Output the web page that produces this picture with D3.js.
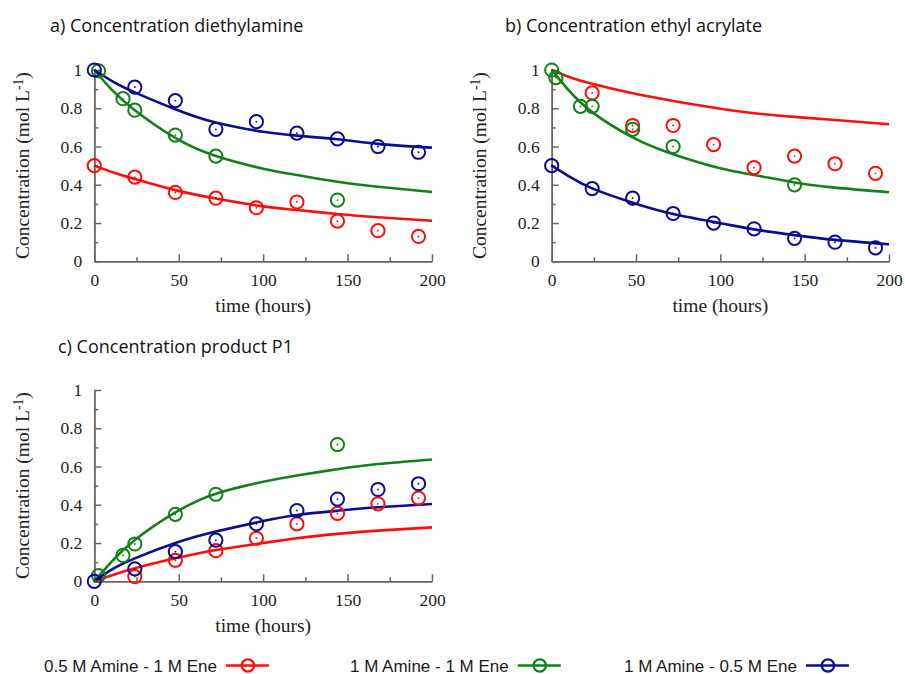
<!DOCTYPE html>
<html>
<head>
<meta charset="utf-8">
<script src="https://cdn.jsdelivr.net/npm/d3@7"></script>
<style>
  body { margin: 0; background: #fff; }
  .tick text { font-family: "Liberation Serif", serif; font-size: 17.5px; fill: #222; }
  .axis path, .axis line { stroke: #666; stroke-width: 1.5; }
  .title { font-family: "Open Sans", sans-serif; font-size: 18px; fill: #111; }
  .atitle { font-family: "Liberation Serif", serif; font-size: 19.5px; fill: #222; }
  .legend text { font-family: "Liberation Sans", Arial, sans-serif; font-size: 17px; fill: #1a1a1a; }
</style>
</head>
<body>
<svg id="chart" width="905" height="674"></svg>
<script>
// sampling times (hours)
const hours = [0, 24, 48, 72, 96, 120, 144, 168, 192];
const greenHours = [0, 2.5, 17, 24, 48, 72, 144];
const fitHours = [0, 10, 24, 48, 72, 100, 120, 144, 168, 200];

const seriesNames = ['0.5 M Amine - 1 M Ene', '1 M Amine - 1 M Ene', '1 M Amine - 0.5 M Ene'];
const seriesColors = ['#ff0d0d', '#13801a', '#0c0c8e'];

// a) diethylamine
const amineRed = [0.50, 0.44, 0.36, 0.33, 0.28, 0.31, 0.21, 0.16, 0.13];
const amineGreen = [null, 0.996, 0.85, 0.79, 0.66, 0.55, 0.32];
const amineBlue = [1.0, 0.91, 0.84, 0.69, 0.73, 0.67, 0.64, 0.60, 0.57];
const amineRedFit = [0.50, 0.468, 0.43, 0.372, 0.328, 0.287, 0.268, 0.247, 0.23, 0.212];
const amineGreenFit = [1.0, 0.90, 0.79, 0.645, 0.55, 0.484, 0.451, 0.416, 0.39, 0.362];
const amineBlueFit = [1.0, 0.945, 0.883, 0.795, 0.725, 0.677, 0.657, 0.638, 0.614, 0.594];

// b) ethyl acrylate
const acrylRed = [null, 0.88, 0.71, 0.71, 0.61, 0.49, 0.55, 0.51, 0.46];
const acrylGreen = [1.0, 0.96, 0.81, 0.81, 0.69, 0.60, 0.40];
const acrylBlue = [0.50, 0.38, 0.33, 0.25, 0.20, 0.17, 0.12, 0.10, 0.07];
const acrylRedFit = [1.0, 0.965, 0.928, 0.878, 0.838, 0.797, 0.774, 0.755, 0.739, 0.716];
const acrylGreenFit = [1.0, 0.895, 0.78, 0.648, 0.56, 0.486, 0.451, 0.412, 0.385, 0.361];
const acrylBlueFit = [0.50, 0.445, 0.381, 0.306, 0.247, 0.199, 0.167, 0.137, 0.112, 0.089];

// c) product P1
const prodRed = [null, 0.025, 0.11, 0.16, 0.225, 0.30, 0.355, 0.405, 0.435];
const prodGreen = [null, 0.03, 0.135, 0.195, 0.35, 0.455, 0.715];
const prodBlue = [0.0, 0.065, 0.155, 0.215, 0.30, 0.37, 0.43, 0.48, 0.51];
const prodRedFit = [0, 0.03, 0.068, 0.12, 0.164, 0.20, 0.225, 0.248, 0.265, 0.282];
const prodGreenFit = [0, 0.10, 0.216, 0.36, 0.458, 0.52, 0.553, 0.586, 0.613, 0.637];
const prodBlueFit = [0, 0.06, 0.12, 0.20, 0.26, 0.315, 0.347, 0.369, 0.387, 0.404];

const yTicks = [0, 0.2, 0.4, 0.6, 0.8, 1];
const yMinor = [0.1, 0.3, 0.5, 0.7, 0.9];
const xTicks = [0, 50, 100, 150, 200];
const xMinor = [25, 75, 125, 175];

const svg = d3.select('#chart');
svg.append('rect').attr('width', 905).attr('height', 674).attr('fill', '#fff');

function drawPanel(p) {
  const x = d3.scaleLinear().domain([0, 200]).range([p.left, p.right]);
  const y = d3.scaleLinear().domain([0, 1]).range([p.bottom, p.top]);
  const g = svg.append('g');

  g.append('text').attr('class', 'title')
    .attr('x', p.titleX).attr('y', p.titleY).text(p.title);

  // minor ticks first, then main axis
  g.append('g').attr('class', 'axis')
    .attr('transform', 'translate(0,' + p.bottom + ')')
    .call(d3.axisBottom(x).tickValues(xMinor).tickSize(-4).tickSizeOuter(0).tickFormat(''));
  g.append('g').attr('class', 'axis')
    .attr('transform', 'translate(' + p.left + ',0)')
    .call(d3.axisLeft(y).tickValues(yMinor).tickSize(-4).tickSizeOuter(0).tickFormat(''));
  g.append('g').attr('class', 'axis')
    .attr('transform', 'translate(0,' + p.bottom + ')')
    .call(d3.axisBottom(x).tickValues(xTicks).tickSize(-7).tickSizeOuter(0).tickPadding(12));
  g.append('g').attr('class', 'axis')
    .attr('transform', 'translate(' + p.left + ',0)')
    .call(d3.axisLeft(y).tickValues(yTicks).tickSize(-7).tickSizeOuter(0).tickPadding(12)
      .tickFormat(d3.format('~g')));
  g.selectAll('.axis .domain').attr('stroke', '#666');

  g.append('text').attr('class', 'atitle')
    .attr('x', (p.left + p.right) / 2).attr('y', p.bottom + 50.5)
    .attr('text-anchor', 'middle').text('time (hours)');

  const yt = g.append('text').attr('class', 'atitle')
    .attr('text-anchor', 'middle')
    .attr('transform', 'translate(' + (p.left - 65.5) + ',' + (p.top + p.bottom) / 2 + ') rotate(-90)');
  yt.append('tspan').text('Concentration (mol L');
  yt.append('tspan').attr('dy', '-0.45em').attr('font-size', '0.7em').text('-1');
  yt.append('tspan').attr('dy', '0.32em').text(')');

  const line = d3.line()
    .defined(d => d[1] != null)
    .x(d => x(d[0])).y(d => y(d[1]))
    .curve(d3.curveNatural);

  p.fits.forEach((vals, i) => {
    g.append('path')
      .attr('d', line(fitHours.map((t, k) => [t, vals[k]])))
      .attr('fill', 'none')
      .attr('stroke', seriesColors[i])
      .attr('stroke-width', 2.6);
  });

  p.points.forEach((pts, i) => {
    const times = i === 1 ? greenHours : hours;
    const data = times.map((t, k) => [t, pts[k]]).filter(d => d[1] != null);
    const pg = g.append('g');
    pg.selectAll('circle.ring').data(data).enter().append('circle')
      .attr('class', 'ring')
      .attr('cx', d => x(d[0])).attr('cy', d => y(d[1]))
      .attr('r', 6.6)
      .attr('fill', 'none')
      .attr('stroke', seriesColors[i])
      .attr('stroke-width', 2);
    pg.selectAll('circle.dot').data(data).enter().append('circle')
      .attr('class', 'dot')
      .attr('cx', d => x(d[0])).attr('cy', d => y(d[1]))
      .attr('r', 0.9)
      .attr('fill', seriesColors[i]);
  });
}

drawPanel({
  title: 'a) Concentration diethylamine', titleX: 50, titleY: 31.5,
  left: 94.3, right: 432, top: 70, bottom: 261.3,
  points: [amineRed, amineGreen, amineBlue],
  fits: [amineRedFit, amineGreenFit, amineBlueFit]
});
drawPanel({
  title: 'b) Concentration ethyl acrylate', titleX: 505, titleY: 31.5,
  left: 551.7, right: 889, top: 70, bottom: 261.3,
  points: [acrylRed, acrylGreen, acrylBlue],
  fits: [acrylRedFit, acrylGreenFit, acrylBlueFit]
});
drawPanel({
  title: 'c) Concentration product P1', titleX: 58, titleY: 352.5,
  left: 94.3, right: 432, top: 390, bottom: 581.3,
  points: [prodRed, prodGreen, prodBlue],
  fits: [prodRedFit, prodGreenFit, prodBlueFit]
});

// legend
const legendX = [44, 350, 624];
const legend = svg.append('g').attr('class', 'legend');
seriesNames.forEach((name, i) => {
  const t = legend.append('text').attr('x', legendX[i]).attr('y', 671.5).text(name);
  const end = legendX[i] + t.node().getComputedTextLength();
  legend.append('line')
    .attr('x1', end + 9).attr('x2', end + 52)
    .attr('y1', 665.5).attr('y2', 665.5)
    .attr('stroke', seriesColors[i]).attr('stroke-width', 2.5);
  legend.append('circle')
    .attr('cx', end + 31).attr('cy', 665.5).attr('r', 6.2)
    .attr('fill', 'none')
    .attr('stroke', seriesColors[i]).attr('stroke-width', 2.2);
});
</script>
</body>
</html>
